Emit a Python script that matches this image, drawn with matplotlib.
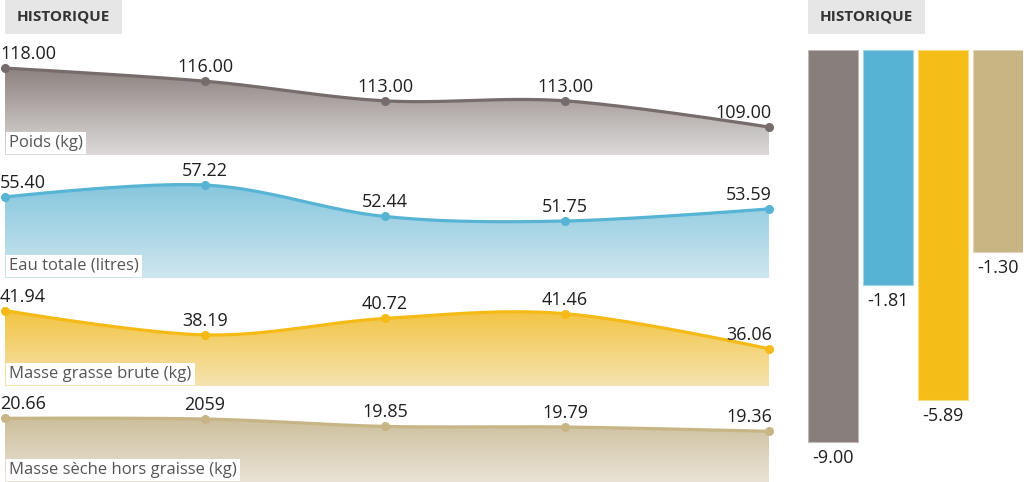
import numpy as np
import matplotlib
matplotlib.use("Agg")
import matplotlib.pyplot as plt
from matplotlib.patches import Polygon, Rectangle
from matplotlib.colors import to_rgb

W, H = 1024, 482

# données
jours = [0, 50, 95, 140, 191]
poids = [118.00, 116.00, 113.00, 113.00, 109.00]
eau = [55.40, 57.22, 52.44, 51.75, 53.59]
masse_grasse = [41.94, 38.19, 40.72, 41.46, 36.06]
masse_seche = [20.66, 20.59, 19.85, 19.79, 19.36]
labels_seche = ["20.66", "2059", "19.85", "19.79", "19.36"]  # tel quel dans la source

noms = ["Poids (kg)", "Eau totale (litres)", "Masse grasse brute (kg)",
        "Masse sèche hors graisse (kg)"]
variations = [-9.00, -1.81, -5.89, -1.30]

couleurs = ["#766c6c", "#57b4d4", "#f5ba16", "#c8b585"]
couleurs_barres = ["#887e7c", "#56b3d4", "#f5bd17", "#c8b584"]
haut_grad = ["#8d8381", "#86c7de", "#f3c442", "#cdbf9c"]
bas_grad = ["#dedada", "#cfe6ee", "#f5e4b1", "#e9e3d5"]

# (haut px, bas px, valeur en bas, px par unité)
bandes = [(40, 155, 104.73, 6.55),
          (165, 278, 43.09, 6.58),
          (285, 386, 30.33, 6.50),
          (395, 482, 14.29, 10.0)]

plt.rcParams['font.family'] = ['Open Sans', 'DejaVu Sans']

fig = plt.figure(figsize=(W / 100, H / 100), dpi=100)


def px_axes(x0, x1, y0, y1):
    return fig.add_axes([x0 / W, 1 - y1 / H, (x1 - x0) / W, (y1 - y0) / H])


def cardinal(xs, ys, n=40):
    # courbe cardinale (tension 0), extrémités comme d3
    P = np.column_stack([xs, ys]).astype(float)
    out = []
    for i in range(len(P) - 1):
        p1, p2 = P[i], P[i + 1]
        p0 = P[i - 1] if i > 0 else p2
        p3 = P[i + 2] if i + 2 < len(P) else p1
        c1 = p1 + (p2 - p0) / 6
        c2 = p2 - (p3 - p1) / 6
        t = np.linspace(0, 1, n)[:, None]
        seg = ((1 - t) ** 3) * p1 + 3 * ((1 - t) ** 2) * t * c1 + 3 * (1 - t) * t ** 2 * c2 + t ** 3 * p2
        out.append(seg if i == 0 else seg[1:])
    seg = np.vstack(out)
    return seg[:, 0], seg[:, 1]


series = [poids, eau, masse_grasse, masse_seche]
for k, vals in enumerate(series):
    top, bottom, lo, ppu = bandes[k]
    ax = px_axes(5, 769, top, bottom)
    hi = lo + (bottom - top) / ppu
    ax.axis('off')

    cx, cy = cardinal(jours, vals)
    verts = np.vstack([np.column_stack([cx, cy]), [[jours[-1], lo], [jours[0], lo]]])
    poly = Polygon(verts, closed=True, facecolor='none', edgecolor='none')
    ax.add_patch(poly)

    c_top = np.array(to_rgb(haut_grad[k]))
    c_bot = np.array(to_rgb(bas_grad[k]))
    f = np.linspace(0, 1, 256)[:, None]
    grad = c_top * (1 - f) + c_bot * f
    img = np.repeat(grad[:, None, :], 2, axis=1)
    im = ax.imshow(img, extent=[jours[0], jours[-1], lo, max(cy)], aspect='auto',
                   origin='upper', zorder=1, interpolation='bilinear')
    im.set_clip_path(poly)
    ax.set_xlim(jours[0], jours[-1])
    ax.set_ylim(lo, hi)

    ax.plot(cx, cy, color=couleurs[k], lw=2.3, zorder=3, clip_on=False,
            solid_capstyle='round')
    ax.plot(jours, vals, 'o', color=couleurs[k], ms=5.5, zorder=4, clip_on=False)

    labs = labels_seche if k == 3 else ["%.2f" % v for v in vals]
    for i, (x, v) in enumerate(zip(jours, vals)):
        if i == 0:
            ha, dx = 'left', -5
        elif i == len(vals) - 1:
            ha, dx = 'right', 3
        else:
            ha, dx = 'center', 0
        ax.annotate(labs[i], (x, v), xytext=(dx, 9), textcoords='offset pixels',
                    ha=ha, va='baseline', fontsize=13, color='#1f1f1f',
                    zorder=5, annotation_clip=False)

    ax.annotate(noms[k], (0, 0), xycoords='axes fraction', xytext=(4, 4),
                textcoords='offset pixels', ha='left', va='bottom',
                fontsize=12, color='#555555', zorder=6,
                bbox=dict(boxstyle='square,pad=0.2', facecolor='white',
                          edgecolor='none'))

# en-têtes
for x0 in (5, 808):
    fig.add_artist(Rectangle((x0 / W, 1 - 34 / H), 117 / W, 34 / H,
                             transform=fig.transFigure, facecolor='#e6e6e6',
                             edgecolor='none'))
    fig.text((x0 + 58.5) / W, 1 - 16.5 / H, "HISTORIQUE", ha='center',
             va='center', fontsize=11, fontweight='bold', color='#333333')

# barres de variation (échelle log sur la valeur absolue)
axb = px_axes(808, 1023, 50, 482)
v0 = 0.1644
ppd = 225.4
hi = 10 ** (np.log10(v0) + 432 / ppd)
axb.set_yscale('log')
axb.set_ylim(hi, v0)
larg = 50 / 55
axb.set_xlim(-larg / 2, 3 + larg / 2)
axb.axis('off')
mag = [abs(v) for v in variations]
pos = np.arange(len(variations))
for i, m in enumerate(mag):
    bord = 0.55 * np.array(to_rgb(couleurs_barres[i])) + 0.45
    axb.bar(pos[i], m - v0, bottom=v0, width=larg, color=couleurs_barres[i],
            edgecolor=bord, linewidth=0.8)
    axb.annotate("%.2f" % variations[i], (pos[i], m), xytext=(0, -7),
                 textcoords='offset pixels', ha='center', va='top',
                 fontsize=13, color='#1f1f1f', annotation_clip=False)

fig.savefig("out.png", dpi=100)
